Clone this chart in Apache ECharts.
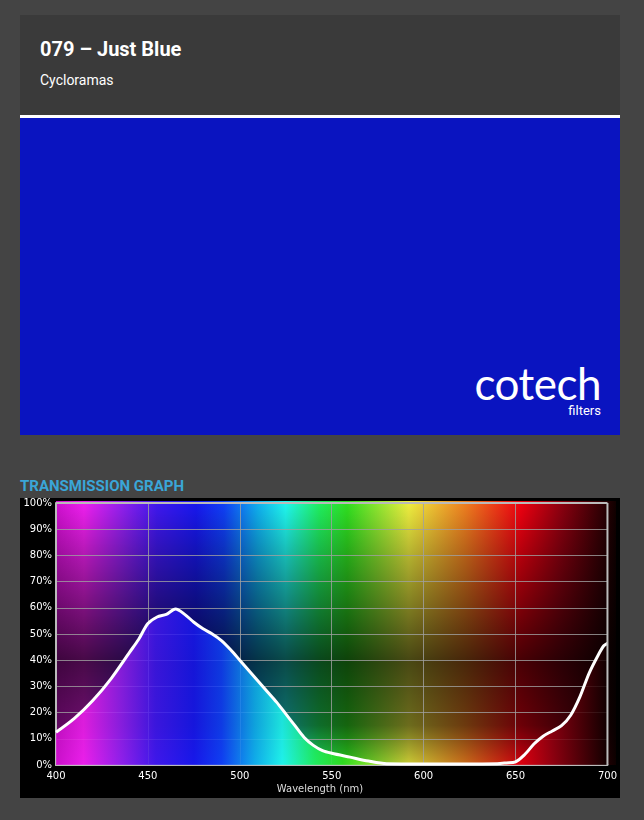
<!DOCTYPE html><html><head><meta charset="utf-8">
<script src="https://cdn.jsdelivr.net/npm/echarts@6/dist/echarts.min.js"></script>
<style>html,body{margin:0;background:#444;width:644px;height:820px;overflow:hidden;font-family:Roboto,sans-serif}
#hdr{position:absolute;left:20px;top:15px;width:600px;height:100px;background:#3a3a3a}
#t{position:absolute;left:20px;top:22px;color:#fff;font-weight:700;font-size:20px}
#s{position:absolute;left:20px;top:57px;color:#fff;font-size:14px}
#sw{position:absolute;left:20px;top:115px;width:600px;height:320px;background:#0a14c0;border-top:3px solid #fff;box-sizing:border-box}
#logo{position:absolute;right:19px;bottom:32px;color:#fff;font-family:Lato,sans-serif;font-size:44px;letter-spacing:-0.5px;line-height:40px}
#f{position:absolute;right:19px;bottom:17px;color:#fff;font-size:13px}
#g{position:absolute;left:20px;top:477px;color:#3aa6d8;font-weight:700;font-size:15px}
#c{position:absolute;left:20px;top:498px;width:600px;height:300px;background:#000}</style></head><body>
<div id="hdr"><div id="t">079 – Just Blue</div><div id="s">Cycloramas</div></div>
<div id="sw"><div id="logo">cotech</div><div id="f">filters</div></div>
<div id="g">TRANSMISSION GRAPH</div>
<div id="c"></div>
<script>
const wavelengths=[400,410,420,430,440,445,450,455,460,465,470,475,480,485,490,495,500,505,510,515,520,525,530,535,540,545,550,560,570,580,600,620,640,645,650,655,660,665,670,675,680,685,690,695,698,700];
const transmission=[12.5,17.8,24.6,33,43,48,54,56.5,57.5,59.5,57.5,54.5,52,50,47.5,44,40,36,32,28,24,19.5,15,10.5,7.5,5.5,4.5,3,1.5,0.5,0.4,0.4,0.5,0.8,1.2,4,8,11,13,15,19,26,35,42,45.5,46.5];
const xTicks=[400,450,500,550,600,650,700];
const ch=echarts.init(document.getElementById('c'));
const L=36,T=3,W=560,H=264;
const spec=()=>new echarts.graphic.LinearGradient(0,0,1,0,[
 {offset:0,color:'#d010d0'},{offset:0.05,color:'#f020f0'},{offset:0.12,color:'#9020f0'},{offset:0.18,color:'#4018f0'},{offset:0.25,color:'#1818f0'},{offset:0.3,color:'#1040f8'},{offset:0.36,color:'#10b0f0'},{offset:0.41,color:'#20f8f0'},{offset:0.47,color:'#20f060'},{offset:0.52,color:'#30e020'},{offset:0.63,color:'#f0f040'},{offset:0.73,color:'#f08020'},{offset:0.83,color:'#f00010'},{offset:0.9,color:'#900010'},{offset:1,color:'#100000'}],false);
ch.setOption({
 animation:false,
 grid:{left:L,top:T,width:W,height:H},
 graphic:[
  {type:'rect',z:-10,shape:{x:L,y:T,width:W,height:H},style:{fill:spec()}},
  {type:'rect',z:-9,shape:{x:L,y:T,width:W,height:H},style:{fill:new echarts.graphic.LinearGradient(0,0,0,1,[
   {offset:0,color:'rgba(0,0,0,0)'},{offset:0.2,color:'rgba(0,0,0,0.25)'},{offset:0.6,color:'rgba(0,0,0,0.7)'},{offset:0.85,color:'rgba(0,0,0,0.55)'},{offset:1,color:'rgba(0,0,0,0.15)'}])}},
  {type:'text',left:'center',top:286,style:{text:'Wavelength (nm)',fill:'#ddd',font:'10px "DejaVu Sans"'}}
 ],
 xAxis:{type:'value',min:400,max:700,interval:50,axisLine:{show:true,lineStyle:{color:'#bbb',width:2}},axisTick:{show:false},
  splitLine:{lineStyle:{color:'rgba(160,160,160,0.8)'}},axisLabel:{color:'#fff',fontSize:10,fontFamily:'DejaVu Sans',margin:6,customValues:xTicks}},
 yAxis:{type:'value',min:0,max:100,interval:10,axisLine:{show:true,lineStyle:{color:'#bbb',width:2}},axisTick:{show:false},
  splitLine:{lineStyle:{color:'rgba(160,160,160,0.8)'}},axisLabel:{color:'#fff',fontSize:10,fontFamily:'DejaVu Sans',margin:4,formatter:'{value}%'}},
 series:[{type:'line',data:wavelengths.map((w,i)=>[w,transmission[i]]),smooth:0.3,showSymbol:false,lineStyle:{color:'#fff',width:3},
   areaStyle:{color:spec(),opacity:0.85},z:1},
  {type:'line',data:[[400,100],[700,100]],showSymbol:false,lineStyle:{color:'#bbb',width:2},silent:true},
  {type:'line',data:[[700,0],[700,100]],showSymbol:false,lineStyle:{color:'#bbb',width:2},silent:true}]
});
</script></body></html>
